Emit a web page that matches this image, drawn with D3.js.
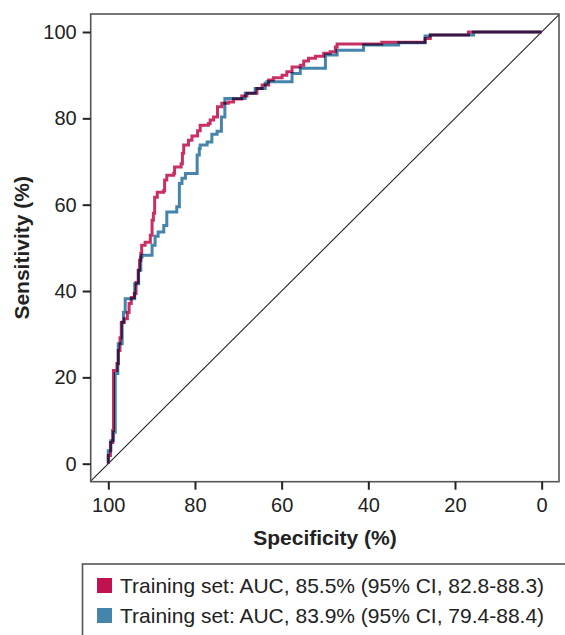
<!DOCTYPE html>
<html>
<head>
<meta charset="utf-8">
<script src="https://cdn.jsdelivr.net/npm/d3@7"></script>
<style>
  html, body { margin: 0; padding: 0; background: #fff; }
  svg { display: block; font-family: "Liberation Sans", Arial, Helvetica, sans-serif; }
</style>
</head>
<body>
<svg id="chart" width="565" height="635"></svg>
<script>
// ---- data (specificity %, sensitivity %) ----
const redSpec = [100, 100, 99.5, 99.0, 98.8, 98.0, 97.7, 97.3, 97.0, 96.3, 95.6, 95.2, 94.7, 94.0, 93.6, 93.1, 92.8, 92.5, 92.3, 91.5, 90.3, 89.9, 89.6, 89.3, 88.7, 87.2, 87.0, 86.5, 84.9, 84.7, 83.2, 82.9, 82.6, 81.5, 80.7, 79.4, 78.8, 76.9, 76.5, 75.7, 74.8, 73.8, 72.3, 71.1, 69.2, 68.0, 65.7, 64.5, 63.0, 61.9, 59.9, 58.8, 57.6, 55.7, 54.9, 53.8, 52.2, 50.3, 48.8, 47.6, 47.2, 36.9, 26.9, 25.7, 16.9, 0];
const redSens = [0, 1.9, 4.9, 7.7, 21.6, 23.2, 26.2, 29.2, 32.7, 33.6, 35.0, 37.1, 38.5, 39.4, 42.0, 44.8, 47.1, 48.7, 50.6, 51.3, 52.9, 56.4, 58.0, 61.7, 62.9, 63.3, 65.7, 66.8, 67.3, 68.7, 69.5, 71.9, 73.8, 74.9, 75.9, 77.1, 78.4, 78.8, 79.6, 80.3, 82.7, 83.5, 83.8, 84.5, 85.2, 85.8, 86.9, 87.7, 88.9, 89.4, 90.0, 90.8, 91.9, 92.3, 93.3, 93.9, 94.4, 95.1, 95.4, 96.5, 97.2, 97.6, 98.5, 99.3, 100, 100];

const blueSpec = [100, 100, 99.4, 98.8, 98.4, 97.8, 97.7, 96.8, 96.5, 96.1, 93.9, 93.0, 92.5, 92.2, 89.9, 89.2, 88.5, 87.2, 86.5, 84.2, 83.6, 83.0, 82.2, 79.5, 79.0, 78.8, 77.2, 76.1, 74.9, 73.9, 73.1, 68.4, 66.1, 63.8, 63.4, 57.6, 55.7, 49.9, 47.2, 41.1, 33.0, 26.9, 25.7, 15.7, 0];
const blueSens = [0, 3.0, 5.3, 7.3, 20.9, 23.1, 27.8, 32.8, 35.1, 38.2, 41.7, 44.8, 47.9, 48.3, 50.6, 52.7, 53.7, 55.2, 58.3, 59.5, 64.9, 66.1, 67.2, 71.5, 73.0, 73.8, 74.5, 76.3, 77.0, 80.3, 84.6, 85.8, 86.9, 88.1, 88.5, 90.4, 91.6, 94.7, 95.8, 97.0, 97.5, 99.1, 99.3, 100, 100];

const xTicks = [100, 80, 60, 40, 20, 0];
const yTicks = [0, 20, 40, 60, 80, 100];
const legendLabels = [
  "Training set: AUC, 85.5% (95% CI, 82.8-88.3)",
  "Training set: AUC, 83.9% (95% CI, 79.4-88.4)"
];
const colors = ["#c0124f", "#4584ab"];

// ---- layout ----
const svg = d3.select("#chart");
const L = 90.7, R = 559, T = 14, B = 481.7;
const x = d3.scaleLinear().domain([104.06, -4.0]).range([L, R]);
const y = d3.scaleLinear().domain([-4.17, 104.17]).range([B, T]);

// diagonal reference line (sens = 100 - spec), clipped to frame
svg.append("line")
  .attr("x1", x(104.06)).attr("y1", y(100 - 104.06))
  .attr("x2", x(-4.0)).attr("y2", y(100 + 4.0))
  .attr("stroke", "#222").attr("stroke-width", 1.1);

// curves
const line = d3.line().x(d => x(d[0])).y(d => y(d[1])).curve(d3.curveStepAfter);
const blueData = blueSpec.map((s, i) => [s, blueSens[i]]);
const redData = redSpec.map((s, i) => [s, redSens[i]]);

const g = svg.append("g").style("isolation", "isolate");
g.append("path").datum(blueData)
  .attr("d", line).attr("fill", "none")
  .attr("stroke", colors[1]).attr("stroke-width", 3)
  .attr("stroke-linejoin", "miter");
g.append("path").datum(redData)
  .attr("d", line).attr("fill", "none")
  .attr("stroke", colors[0]).attr("stroke-width", 3)
  .attr("stroke-linejoin", "miter")
  .attr("stroke-opacity", 0.88)
  .style("mix-blend-mode", "multiply");

// frame
svg.append("rect")
  .attr("x", L).attr("y", T).attr("width", R - L).attr("height", B - T)
  .attr("fill", "none").attr("stroke", "#555").attr("stroke-width", 1.6);

// axes
const xAxis = d3.axisBottom(x).tickValues(xTicks).tickSize(8).tickPadding(8).tickSizeOuter(0);
const gx = svg.append("g").attr("transform", `translate(0,${B})`).call(xAxis);
gx.select(".domain").remove();
gx.selectAll(".tick line").attr("stroke", "#222").attr("stroke-width", 2);
gx.selectAll(".tick text").attr("fill", "#222").style("font-size", "20px")
  .attr("font-family", "'Liberation Sans', Arial, sans-serif");

const yAxis = d3.axisLeft(y).tickValues(yTicks).tickSize(8).tickPadding(6).tickSizeOuter(0);
const gy = svg.append("g").attr("transform", `translate(${L},0)`).call(yAxis);
gy.select(".domain").remove();
gy.selectAll(".tick line").attr("stroke", "#222").attr("stroke-width", 2);
gy.selectAll(".tick text").attr("fill", "#222").style("font-size", "20px")
  .attr("font-family", "'Liberation Sans', Arial, sans-serif");

// axis titles
svg.append("text")
  .attr("x", (x(100) + x(0)) / 2).attr("y", 545)
  .attr("text-anchor", "middle")
  .attr("font-weight", "bold").attr("font-size", 21).attr("fill", "#222")
  .text("Specificity (%)");
svg.append("text")
  .attr("transform", `translate(29,${(y(0) + y(100)) / 2}) rotate(-90)`)
  .attr("text-anchor", "middle")
  .attr("font-weight", "bold").attr("font-size", 21).attr("fill", "#222")
  .text("Sensitivity (%)");

// legend
svg.append("rect")
  .attr("x", 82.5).attr("y", 564).attr("width", 500).attr("height", 100)
  .attr("fill", "none").attr("stroke", "#555").attr("stroke-width", 1.6);
const lg = svg.selectAll(".leg").data(legendLabels).enter().append("g")
  .attr("class", "leg")
  .attr("transform", (d, i) => `translate(97,${578 + i * 30})`);
lg.append("rect").attr("width", 15).attr("height", 15)
  .attr("fill", (d, i) => colors[i]);
lg.append("text").attr("x", 23).attr("y", 7.5).attr("dy", "0.35em")
  .attr("font-size", 21).attr("fill", "#222")
  .text(d => d);
</script>
</body>
</html>
